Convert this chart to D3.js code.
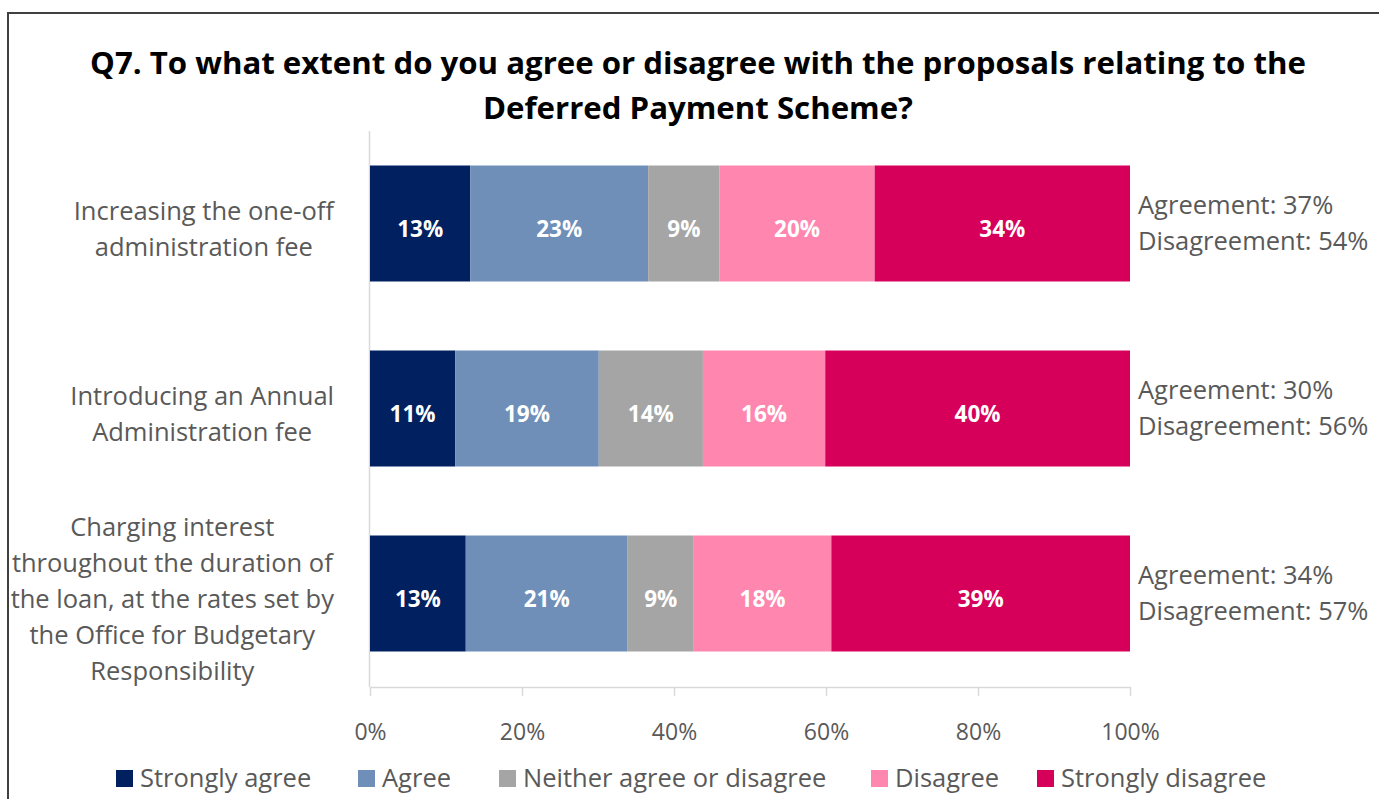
<!DOCTYPE html>
<html>
<head>
<meta charset="utf-8">
<script src="https://cdn.jsdelivr.net/npm/d3@7"></script>
<style>
  html, body { margin: 0; padding: 0; background: #fff; }
  svg { display: block; }
  text { font-family: "Open Sans", Lato, sans-serif; }
</style>
</head>
<body>
<svg id="chart" width="1379" height="799"></svg>
<script>
// Proposals (one bar each); "\n" marks the label line breaks
const categories = [
  "Increasing the one-off\nadministration fee",
  "Introducing an Annual\nAdministration fee",
  "Charging interest\nthroughout the duration of\nthe loan, at the rates set by\nthe Office for Budgetary\nResponsibility"
];
const seriesNames = ["Strongly agree", "Agree", "Neither agree or disagree", "Disagree", "Strongly disagree"];
const seriesColors = ["#002060", "#6F8FB8", "#A5A5A5", "#FF86AE", "#D6005A"];

// Share of respondents (%) per proposal
const stronglyAgree    = [13.2, 11.2, 12.6];
const agree            = [23.4, 18.9, 21.3];
const neither          = [9.4, 13.7, 8.7];
const disagree         = [20.4, 16.1, 18.1];
const stronglyDisagree = [33.6, 40.1, 39.3];

const xTicks = [0, 20, 40, 60, 80, 100];

const titleLines = [
  "Q7. To what extent do you agree or disagree with the proposals relating to the",
  "Deferred Payment Scheme?"
];

const seriesValues = [stronglyAgree, agree, neither, disagree, stronglyDisagree];
const rows = categories.map((c, i) => {
  const r = { category: c };
  seriesNames.forEach((s, j) => { r[s] = seriesValues[j][i]; });
  return r;
});

const svg = d3.select("#chart");
const fmt = d3.format(".0f");
const textGrey = "#595959";
const labelSize = 25.5;

// outer frame
svg.append("rect")
  .attr("x", 8).attr("y", 13)
  .attr("width", 1400).attr("height", 900)
  .attr("fill", "none").attr("stroke", "#404040").attr("stroke-width", 2);

// title
svg.append("g").selectAll("text").data(titleLines).join("text")
  .attr("x", 698).attr("y", (d, i) => 74 + i * 45)
  .attr("text-anchor", "middle")
  .attr("font-weight", "bold")
  .attr("font-size", 31.2)
  .attr("fill", "#000")
  .text(d => d);

const x = d3.scaleLinear().domain([0, 100]).range([370, 1130]);
const y = d3.scaleBand().domain(categories).range([131, 686])
  .paddingInner(0.373).paddingOuter(0.1865);

// category axis line
svg.append("line")
  .attr("x1", 369.5).attr("x2", 369.5)
  .attr("y1", 131).attr("y2", 687)
  .attr("stroke", "#D9D9D9").attr("stroke-width", 1.5);

// value axis
const xAxis = svg.append("g")
  .attr("transform", "translate(0,687)")
  .call(d3.axisBottom(x).tickValues(xTicks).tickFormat(d => d + "%")
    .tickSize(9).tickSizeOuter(0).tickPadding(28));
xAxis.select(".domain").attr("stroke", "#D9D9D9").attr("stroke-width", 1.5);
xAxis.selectAll(".tick line").attr("stroke", "#D9D9D9").attr("stroke-width", 1.5);
xAxis.selectAll(".tick text")
  .attr("font-family", "'Open Sans', sans-serif")
  .attr("font-size", 23)
  .attr("fill", textGrey);

// stacked bars
const stack = d3.stack().keys(seriesNames);
const layers = stack(rows);

const layerG = svg.append("g").selectAll("g").data(layers).join("g")
  .attr("fill", (d, i) => seriesColors[i]);

layerG.selectAll("rect").data(d => d).join("rect")
  .attr("x", d => x(d[0]))
  .attr("width", d => x(d[1]) - x(d[0]))
  .attr("y", d => y(d.data.category))
  .attr("height", y.bandwidth());

layerG.selectAll("text").data(d => d).join("text")
  .attr("x", d => (x(d[0]) + x(d[1])) / 2)
  .attr("y", d => y(d.data.category) + y.bandwidth() / 2 + 13)
  .attr("text-anchor", "middle")
  .attr("font-weight", "bold")
  .attr("font-size", 22.5)
  .attr("fill", "#fff")
  .text(d => fmt(d[1] - d[0]) + "%");

// category labels: each block centred on itself, right edge at the axis gap
const lineGap = 36;
categories.forEach(c => {
  const lines = c.split("\n");
  const g = svg.append("g");
  const cy = y(c) + y.bandwidth() / 2;
  const t = g.selectAll("text").data(lines).join("text")
    .attr("font-size", labelSize)
    .attr("fill", textGrey)
    .attr("text-anchor", "middle")
    .attr("y", (d, i) => cy + (i - (lines.length - 1) / 2) * lineGap + 14)
    .text(d => d);
  let maxW = 0;
  t.each(function () { maxW = Math.max(maxW, this.getComputedTextLength()); });
  t.attr("x", 334 - maxW / 2);
});

// agreement / disagreement totals beside each bar
rows.forEach(r => {
  const agreeTotal = r["Strongly agree"] + r["Agree"];
  const disagreeTotal = r["Disagree"] + r["Strongly disagree"];
  const cy = y(r.category) + y.bandwidth() / 2;
  svg.append("g").selectAll("text")
    .data(["Agreement: " + fmt(agreeTotal) + "%", "Disagreement: " + fmt(disagreeTotal) + "%"])
    .join("text")
    .attr("x", 1138)
    .attr("y", (d, i) => cy + (i - 0.5) * 36 + 8)
    .attr("font-size", labelSize)
    .attr("fill", textGrey)
    .text(d => d);
});

// legend
const legendX = [116, 358, 499, 871, 1037];
const legend = svg.append("g").selectAll("g").data(seriesNames).join("g")
  .attr("transform", (d, i) => `translate(${legendX[i]},770)`);
legend.append("rect")
  .attr("width", 17).attr("height", 17)
  .attr("fill", (d, i) => seriesColors[i]);
legend.append("text")
  .attr("x", 24).attr("y", 16.5)
  .attr("font-size", labelSize)
  .attr("fill", textGrey)
  .text(d => d);
</script>
</body>
</html>
